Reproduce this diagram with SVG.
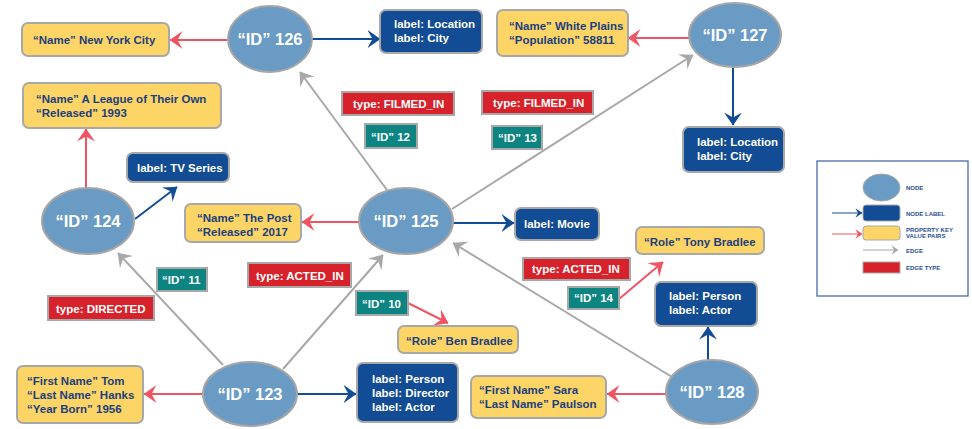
<svg xmlns="http://www.w3.org/2000/svg" width="972" height="429" viewBox="0 0 972 429">
<style>
.node ellipse{fill:#6a9bc4;stroke:#a6a6a6;stroke-width:2}
.node text{font-family:"Liberation Sans",Arial,sans-serif;font-weight:bold;font-size:16.5px;fill:#fff;text-anchor:middle}
.prop rect{fill:#fdd466;stroke:#a8a8a8;stroke-width:2}
.prop text{font-family:"Liberation Sans",Arial,sans-serif;font-weight:bold;font-size:11.5px;fill:#1b3f7e}
.lab rect{fill:#114c94;stroke:#a8a8a8;stroke-width:2}
.lab text{font-family:"Liberation Sans",Arial,sans-serif;font-weight:bold;font-size:11.5px;fill:#fff}
.etype rect{fill:#d7222b;stroke:#a8a8a8;stroke-width:2}
.eid rect{fill:#0b8482;stroke:#a8a8a8;stroke-width:2}
.etype text,.eid text{font-family:"Liberation Sans",Arial,sans-serif;font-weight:bold;font-size:11.5px;fill:#fff}
.red{stroke:#ee5563;stroke-width:2;fill:none;marker-end:url(#ar)}
.blue{stroke:#114c94;stroke-width:2;fill:none;marker-end:url(#ab)}
.gray{stroke:#a8a8a8;stroke-width:2;fill:none;marker-end:url(#ag)}
.leg text{font-family:"Liberation Sans",Arial,sans-serif;font-weight:bold;font-size:6px;fill:#1f4e96}
</style>
<defs>
<marker id="ar" markerUnits="userSpaceOnUse" viewBox="0 0 13 18" refX="12.5" refY="9" markerWidth="13" markerHeight="18" orient="auto"><path d="M0,0 L13,9 L0,18 L5,9 z" fill="#ee5563"/></marker>
<marker id="ab" markerUnits="userSpaceOnUse" viewBox="0 0 13 18" refX="12.5" refY="9" markerWidth="13" markerHeight="18" orient="auto"><path d="M0,0 L13,9 L0,18 L5,9 z" fill="#114c94"/></marker>
<marker id="ag" markerUnits="userSpaceOnUse" viewBox="0 0 13 18" refX="12.5" refY="9" markerWidth="13" markerHeight="18" orient="auto"><path d="M0,0 L13,9 L0,18 L5,9 z" fill="#a8a8a8"/></marker>
<marker id="lr" markerUnits="userSpaceOnUse" viewBox="0 0 13 18" refX="12.5" refY="9" markerWidth="7" markerHeight="9.5" orient="auto"><path d="M0,0 L13,9 L0,18 L5,9 z" fill="#ee5563"/></marker>
<marker id="lb" markerUnits="userSpaceOnUse" viewBox="0 0 13 18" refX="12.5" refY="9" markerWidth="7" markerHeight="9.5" orient="auto"><path d="M0,0 L13,9 L0,18 L5,9 z" fill="#114c94"/></marker>
<marker id="lg" markerUnits="userSpaceOnUse" viewBox="0 0 13 18" refX="12.5" refY="9" markerWidth="7" markerHeight="9.5" orient="auto"><path d="M0,0 L13,9 L0,18 L5,9 z" fill="#a8a8a8"/></marker>
</defs>
<rect width="972" height="429" fill="#fff"/>

<g id="connectors">
<line class="gray" x1="387" y1="190" x2="300" y2="72"/>
<line class="gray" x1="452" y1="209" x2="693" y2="55"/>
<line class="gray" x1="223" y1="365" x2="118" y2="253"/>
<line class="gray" x1="283" y1="369" x2="383" y2="255"/>
<line class="gray" x1="672" y1="377" x2="453" y2="243"/>
<line class="red" x1="228" y1="40" x2="170" y2="40"/>
<line class="blue" x1="312" y1="39" x2="380" y2="39"/>
<line class="red" x1="689" y1="38" x2="628" y2="38"/>
<line class="blue" x1="733" y1="67" x2="733" y2="125"/>
<line class="red" x1="86" y1="188" x2="86" y2="129"/>
<line class="blue" x1="135" y1="219" x2="177" y2="187"/>
<line class="red" x1="360" y1="222" x2="302" y2="222"/>
<line class="blue" x1="453" y1="223" x2="514" y2="223"/>
<line class="red" x1="203" y1="394" x2="144" y2="394"/>
<line class="blue" x1="298" y1="394" x2="356" y2="394"/>
<line class="red" x1="666" y1="394" x2="607" y2="394"/>
<line class="blue" x1="708" y1="360" x2="708" y2="327"/>
<line class="red" x1="408" y1="303" x2="448" y2="323"/>
<line class="red" x1="619" y1="299" x2="663" y2="262"/>
</g>

<g id="n126" class="node"><ellipse cx="270" cy="39" rx="42" ry="33"/><text x="270" y="45">“ID” 126</text></g>
<g id="n127" class="node"><ellipse cx="735" cy="35" rx="46" ry="32"/><text x="735" y="41">“ID” 127</text></g>
<g id="n124" class="node"><ellipse cx="88" cy="221" rx="46" ry="33"/><text x="88" y="227">“ID” 124</text></g>
<g id="n125" class="node"><ellipse cx="406" cy="221" rx="47" ry="33"/><text x="406" y="227">“ID” 125</text></g>
<g id="n123" class="node"><ellipse cx="250" cy="394" rx="47" ry="32"/><text x="250" y="400">“ID” 123</text></g>
<g id="n128" class="node"><ellipse cx="712" cy="392" rx="46" ry="32"/><text x="712" y="398">“ID” 128</text></g>

<g id="p-nyc" class="prop"><rect x="22" y="23" width="147" height="33" rx="6"/><text x="33" y="44">“Name” New York City</text></g>
<g id="p-league" class="prop"><rect x="23" y="83" width="198" height="45" rx="6"/><text x="36" y="103">“Name” A League of Their Own</text><text x="36" y="117">“Released” 1993</text></g>
<g id="l-126" class="lab"><rect x="380" y="10" width="102" height="43" rx="6"/><text x="394" y="28">label: Location</text><text x="394" y="42">label: City</text></g>
<g id="p-wp" class="prop"><rect x="497" y="10" width="131" height="46" rx="6"/><text x="509" y="30">“Name” White Plains</text><text x="509" y="44">“Population” 58811</text></g>
<g id="l-127" class="lab"><rect x="683" y="127" width="101" height="45" rx="6"/><text x="697" y="146">label: Location</text><text x="697" y="160">label: City</text></g>
<g id="l-tv" class="lab"><rect x="127" y="153" width="102" height="29" rx="6"/><text x="137" y="172">label: TV Series</text></g>
<g id="p-post" class="prop"><rect x="185" y="204" width="116" height="38" rx="6"/><text x="197" y="222">“Name” The Post</text><text x="197" y="236">“Released” 2017</text></g>
<g id="l-movie" class="lab"><rect x="515" y="208" width="84" height="32" rx="6"/><text x="524" y="228">label: Movie</text></g>
<g id="p-ben" class="prop"><rect x="398" y="326" width="120" height="27" rx="6"/><text x="406" y="345">“Role” Ben Bradlee</text></g>
<g id="p-tony" class="prop"><rect x="636" y="227" width="128" height="27" rx="6"/><text x="644" y="246">“Role” Tony Bradlee</text></g>
<g id="l-128" class="lab"><rect x="655" y="282" width="102" height="44" rx="6"/><text x="669" y="300">label: Person</text><text x="669" y="314">label: Actor</text></g>
<g id="p-tom" class="prop"><rect x="17" y="366" width="126" height="57" rx="6"/><text x="27" y="385">“First Name” Tom</text><text x="27" y="399">“Last Name” Hanks</text><text x="27" y="413">“Year Born” 1956</text></g>
<g id="l-123" class="lab"><rect x="357" y="363" width="101" height="59" rx="6"/><text x="372" y="383">label: Person</text><text x="372" y="397">label: Director</text><text x="372" y="411">label: Actor</text></g>
<g id="p-sara" class="prop"><rect x="471" y="376" width="135" height="42" rx="6"/><text x="479" y="394">“First Name” Sara</text><text x="479" y="408">“Last Name” Paulson</text></g>

<g id="t-filmed1" class="etype"><rect x="342" y="92" width="112" height="23"/><text x="353" y="108">type: FILMED_IN</text></g>
<g id="e-12" class="eid"><rect x="365" y="124" width="52" height="24"/><text x="371" y="141">“ID” 12</text></g>
<g id="t-filmed2" class="etype"><rect x="482" y="91" width="111" height="23"/><text x="493" y="107">type: FILMED_IN</text></g>
<g id="e-13" class="eid"><rect x="492" y="126" width="50" height="23"/><text x="498" y="142">“ID” 13</text></g>
<g id="e-11" class="eid"><rect x="157" y="268" width="50" height="23"/><text x="162" y="284">“ID” 11</text></g>
<g id="t-directed" class="etype"><rect x="48" y="296" width="106" height="24"/><text x="56" y="313">type: DIRECTED</text></g>
<g id="t-acted1" class="etype"><rect x="248" y="263" width="103" height="24"/><text x="256" y="280">type: ACTED_IN</text></g>
<g id="t-acted2" class="etype"><rect x="523" y="258" width="107" height="22"/><text x="532" y="273">type: ACTED_IN</text></g>
<g id="e-14" class="eid"><rect x="568" y="287" width="51" height="22"/><text x="574" y="302">“ID” 14</text></g>
<g id="e-10" class="eid"><rect x="356" y="291" width="52" height="24"/><text x="362" y="308">“ID” 10</text></g>

<g id="legend" class="leg">
<rect x="817" y="161" width="151" height="135" fill="#fff" stroke="#3a5f9e" stroke-width="1.2"/>
<ellipse cx="881.5" cy="187.5" rx="18.5" ry="13.5" fill="#6a9bc4" stroke="#a6a6a6" stroke-width="1"/>
<text x="906" y="190">NODE</text>
<line x1="832" y1="213" x2="862" y2="213" stroke="#114c94" stroke-width="1" marker-end="url(#lb)"/>
<rect x="863" y="205" width="37" height="16" rx="3" fill="#114c94" stroke="#a8a8a8" stroke-width="1"/>
<text x="906" y="216">NODE LABEL</text>
<line x1="832" y1="234" x2="862" y2="234" stroke="#ee5563" stroke-width="1" marker-end="url(#lr)"/>
<rect x="863" y="226" width="37" height="14" rx="3" fill="#fdd466" stroke="#a8a8a8" stroke-width="1"/>
<text x="906" y="232">PROPERTY KEY</text>
<text x="906" y="238">VALUE PAIRS</text>
<line x1="863" y1="250" x2="898" y2="250" stroke="#a8a8a8" stroke-width="1" marker-end="url(#lg)"/>
<text x="906" y="253">EDGE</text>
<rect x="863" y="262" width="37" height="11" fill="#d7222b" stroke="#a8a8a8" stroke-width="1"/>
<text x="906" y="270">EDGE TYPE</text>
</g>
</svg>
